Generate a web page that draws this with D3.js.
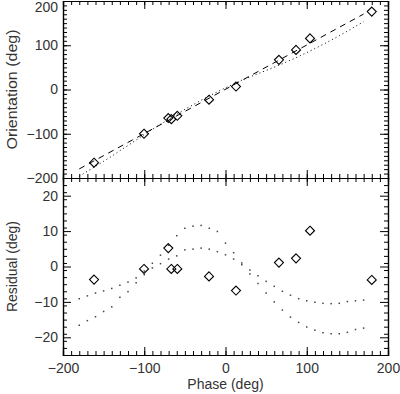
<!DOCTYPE html>
<html>
<head>
<meta charset="utf-8">
<script src="https://cdn.jsdelivr.net/npm/d3@7"></script>
<style>
  html, body { margin: 0; padding: 0; background: #fff; }
  text { font-family: "Liberation Sans", Arial, sans-serif; fill: #333; }
</style>
</head>
<body>
<div id="chart"></div>
<script>
// observed points
var obsPhase = [-161.8, -100.3, -70.4, -66.7, -59.3, -20.3, 12.9, 65.8, 86.8, 104, 180],
    obsOrient = [-165.5, -100, -64.5, -67, -59.5, -23, 6.6, 67, 89.5, 115.5, 176],
    obsResid = [-3.7, -0.7, 5.2, -0.7, -0.7, -2.8, -6.8, 1.1, 2.3, 10.1, -3.8];

// model grid and model residual curves
var modelPhase = [-180, -170, -160, -150, -140, -130, -120, -110, -100, -90, -80, -70,
    -60, -50, -40, -30, -20, -10, 0, 10, 20, 30, 40, 50,
    60, 70, 80, 90, 100, 110, 120, 130, 140, 150, 160, 170];
var residA = [-9.1, -8.3, -7.5, -6.9, -6.2, -5.3, -4.4, -3.2, -1.3, 0.9, 3.2, 6.0,
    8.7, 10.8, 11.4, 11.6, 10.8, 9.9, 6.6, 3.9, 1.0, -1.0, -2.6, -4.2,
    -5.6, -7.0, -8.1, -9.1, -9.7, -10.1, -10.4, -10.5, -10.4, -9.9, -9.7, -9.5];
var residB = [-16.6, -15.3, -14.2, -12.7, -11.4, -8.7, -7.1, -4.6, -2.3, -0.4, 0.8, 2.1,
    3.0, 4.7, 4.9, 5.2, 4.9, 4.2, 3.3, 2.1, 0.5, -2.1, -4.8, -7.5,
    -10.0, -12.3, -14.3, -15.8, -17.1, -18.0, -18.7, -19.0, -19.0, -18.6, -17.8, -17.4];

// linear fit (dashed line) end points
var fitPhase = [-180, 170],
    fitOrient = [-179.5, 170.5];

var xTicks = [-200, -100, 0, 100, 200],
    topTicks = [-200, -100, 0, 100, 200],
    botTicks = [-20, -10, 0, 10, 20];

var W = 400, H = 394,
    left = 63, right = 388,
    top1 = 1, bot1 = 178, bot2 = 355;

var svg = d3.select("#chart").append("svg")
    .attr("width", W).attr("height", H);

var x = d3.scaleLinear().domain([-200, 200]).range([left, right]),
    y1 = d3.scaleLinear().domain([-200, 200]).range([bot1, top1]),
    y2 = d3.scaleLinear().domain([-25, 25]).range([bot2, bot1]);

function fitAt(p) {
    return fitOrient[0] + (p - fitPhase[0]) * (fitOrient[1] - fitOrient[0]) / (fitPhase[1] - fitPhase[0]);
}

function label(d) { return d < 0 ? "\u2212" + Math.abs(d) : d; }

// IDL style box axes with inward ticks
function box(y, minorStep, majorTicks, showX) {
    var g = svg.append("g");
    var y0 = y.range()[0], yT = y.range()[1];
    var minorX = d3.range(-200, 200.1, 10),
        minorY = d3.range(y.domain()[0], y.domain()[1] + 0.01, minorStep);

    // bottom
    g.append("g").attr("transform", "translate(0," + y0 + ")")
        .call(d3.axisBottom(x).tickValues(minorX).tickSize(-4).tickFormat(""));
    g.append("g").attr("transform", "translate(0," + y0 + ")")
        .call(d3.axisBottom(x).tickValues(xTicks).tickSize(-8).tickPadding(8)
            .tickFormat(showX ? label : ""));
    // top
    g.append("g").attr("transform", "translate(0," + yT + ")")
        .call(d3.axisTop(x).tickValues(minorX).tickSize(-4).tickFormat(""));
    g.append("g").attr("transform", "translate(0," + yT + ")")
        .call(d3.axisTop(x).tickValues(xTicks).tickSize(-8).tickFormat(""));
    // left
    g.append("g").attr("transform", "translate(" + left + ",0)")
        .call(d3.axisLeft(y).tickValues(minorY).tickSize(-4).tickFormat(""));
    g.append("g").attr("class", "yax").attr("transform", "translate(" + left + ",0)")
        .call(d3.axisLeft(y).tickValues(majorTicks).tickSize(-8).tickPadding(5)
            .tickFormat(label));
    // right
    g.append("g").attr("transform", "translate(" + right + ",0)")
        .call(d3.axisRight(y).tickValues(minorY).tickSize(-4).tickFormat(""));
    g.append("g").attr("transform", "translate(" + right + ",0)")
        .call(d3.axisRight(y).tickValues(majorTicks).tickSize(-8).tickFormat(""));

    g.selectAll(".domain").attr("stroke", "#000").attr("stroke-width", 1.2);
    g.selectAll(".tick line").attr("stroke", "#000").attr("stroke-width", 1);
    g.selectAll(".tick text").attr("font-size", 14).attr("fill", "#333")
        .attr("font-family", "Liberation Sans, Arial, sans-serif");
    return g;
}

box(y1, 10, topTicks, false);
box(y2, 2, botTicks, true);

// keep the topmost label inside the picture
svg.selectAll(".yax .tick text")
    .filter(function (d) { return y1(d) < 5 && d === 200; })
    .attr("dy", "0.72em");

// top panel: dashed linear fit
svg.append("path")
    .datum(fitPhase.map(function (p, i) { return [p, fitOrient[i]]; }))
    .attr("fill", "none").attr("stroke", "#000").attr("stroke-width", 1)
    .attr("stroke-dasharray", "6,5")
    .attr("d", d3.line().x(function (d) { return x(d[0]); }).y(function (d) { return y1(d[1]); }));

// top panel: dotted model (fit + residual B)
svg.append("path")
    .datum(modelPhase.map(function (p, i) { return [p, fitAt(p) + residB[i]]; }))
    .attr("fill", "none").attr("stroke", "#000").attr("stroke-width", 1)
    .attr("stroke-dasharray", "1,3")
    .attr("d", d3.line().x(function (d) { return x(d[0]); }).y(function (d) { return y1(d[1]); }));

// diamonds
var diamond = d3.symbol().type(d3.symbolDiamond2).size(52);

svg.append("g").selectAll("path")
    .data(obsPhase)
    .enter().append("path")
    .attr("d", diamond)
    .attr("transform", function (d, i) { return "translate(" + x(d) + "," + y1(obsOrient[i]) + ")"; })
    .attr("fill", "none").attr("stroke", "#000").attr("stroke-width", 1.1);

// bottom panel: dot curves
[residA, residB].forEach(function (series) {
    svg.append("g").selectAll("rect")
        .data(modelPhase)
        .enter().append("rect")
        .attr("x", function (d) { return x(d) - 0.75; })
        .attr("y", function (d, i) { return y2(series[i]) - 0.75; })
        .attr("width", 1.5).attr("height", 1.5)
        .attr("fill", "#444");
});

svg.append("g").selectAll("path")
    .data(obsPhase)
    .enter().append("path")
    .attr("d", diamond)
    .attr("transform", function (d, i) { return "translate(" + x(d) + "," + y2(obsResid[i]) + ")"; })
    .attr("fill", "none").attr("stroke", "#000").attr("stroke-width", 1.1);

// axis titles
svg.append("text")
    .attr("x", (left + right) / 2).attr("y", 389)
    .attr("text-anchor", "middle").attr("font-size", 14)
    .text("Phase (deg)");

svg.append("text")
    .attr("transform", "translate(17," + (top1 + bot1) / 2 + ") rotate(-90)")
    .attr("text-anchor", "middle").attr("font-size", 14)
    .attr("textLength", 120).attr("lengthAdjust", "spacingAndGlyphs")
    .text("Orientation (deg)");

svg.append("text")
    .attr("transform", "translate(17," + (bot1 + bot2) / 2 + ") rotate(-90)")
    .attr("text-anchor", "middle").attr("font-size", 14)
    .text("Residual (deg)");
</script>
</body>
</html>
